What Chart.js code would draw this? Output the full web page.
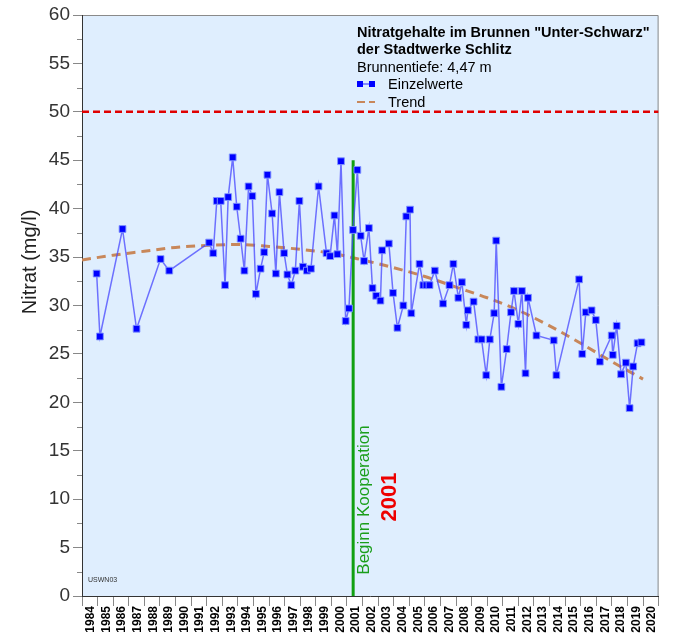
<!DOCTYPE html>
<html>
<head>
<meta charset="utf-8">
<script src="https://cdn.jsdelivr.net/npm/chart.js@4/dist/chart.umd.min.js"></script>
<style>
  html, body { margin: 0; padding: 0; background: #fff; }
</style>
</head>
<body>
<canvas id="chart" width="673" height="642"></canvas>
<script>
// Einzelwerte (Datum als Dezimaljahr, Nitrat in mg/l)
const sampleYears = [
  1984.94, 1985.15, 1986.6, 1987.5, 1989.04, 1989.6, 1992.16, 1992.42, 1992.65, 1992.9,
  1993.18, 1993.38, 1993.67, 1993.93, 1994.18, 1994.42, 1994.69, 1994.93, 1995.16, 1995.46,
  1995.69, 1995.9, 1996.2, 1996.44, 1996.67, 1996.97, 1997.18, 1997.43, 1997.69, 1997.95,
  1998.18, 1998.43, 1998.69, 1999.18, 1999.69, 1999.92, 2000.2, 2000.39, 2000.62, 2000.92,
  2001.13, 2001.39, 2001.67, 2001.88, 2002.1, 2002.41, 2002.64, 2002.88, 2003.15, 2003.26,
  2003.69, 2003.96, 2004.24, 2004.62, 2004.81, 2005.05, 2005.13, 2005.66, 2005.9, 2006.1,
  2006.3, 2006.64, 2007.17, 2007.58, 2007.83, 2008.15, 2008.38, 2008.66, 2008.76, 2009.13,
  2009.43, 2009.64, 2009.94, 2010.17, 2010.45, 2010.58, 2010.91, 2011.25, 2011.53, 2011.72,
  2012.0, 2012.23, 2012.46, 2012.62, 2013.16, 2014.27, 2014.44, 2015.9, 2016.1, 2016.33,
  2016.7, 2016.97, 2017.23, 2017.99, 2018.06, 2018.31, 2018.59, 2018.9, 2019.14, 2019.37,
  2019.65, 2019.9
]
const nitrateValues = [
  33.3, 26.8, 37.9, 27.6, 34.8, 33.6, 36.5, 35.4, 40.8, 40.8,
  32.1, 41.2, 45.3, 40.2, 36.9, 33.6, 42.3, 41.3, 31.2, 33.8,
  35.5, 43.5, 39.5, 33.3, 41.7, 35.4, 33.2, 32.1, 33.6, 40.8,
  34.0, 33.6, 33.8, 42.3, 35.4, 35.1, 39.3, 35.3, 44.9, 28.4,
  29.7, 37.8, 44.0, 37.2, 34.6, 38.0, 31.8, 31.0, 30.5, 35.7,
  36.4, 31.3, 27.7, 30.0, 39.2, 39.9, 29.2, 34.3, 32.1, 32.1,
  32.1, 33.6, 30.2, 32.1, 34.3, 30.8, 32.4, 28.0, 29.5, 30.4,
  26.5, 26.5, 22.8, 26.5, 29.2, 36.7, 21.6, 25.5, 29.3, 31.5,
  28.1, 31.5, 23.0, 30.8, 26.9, 26.4, 22.8, 32.7, 25.0, 29.3,
  29.5, 28.5, 24.2, 26.9, 24.9, 27.9, 22.9, 24.1, 19.4, 23.7,
  26.1, 26.2
]

// Trendkurve
const trendYears = [1984, 1986, 1988, 1990, 1992, 1994, 1996, 1998, 2000, 2002, 2004, 2006, 2008, 2010, 2012, 2014, 2016, 2018, 2020]
const trendValues = [34.7, 35.2, 35.6, 36.0, 36.2, 36.3, 36.1, 35.8, 35.4, 34.7, 33.9, 33.0, 31.9, 30.8, 29.5, 27.9, 26.1, 24.2, 22.4]

const limitValue = 50
const cooperationYear = 2001.4
const cooperationTop = 45
const xMin = 1984
const xMax = 2021

const font = 'Arial, "Liberation Sans", sans-serif'

const plotBackground = {
  id: 'plotBackground',
  beforeDraw(chart) {
    const { ctx, chartArea: a } = chart
    ctx.save()
    ctx.fillStyle = '#dfeefe'
    ctx.fillRect(a.left, a.top, a.width, a.height)
    ctx.strokeStyle = '#8a8a8a'
    ctx.lineWidth = 1
    ctx.beginPath()
    ctx.moveTo(a.left, a.top + 0.5)
    ctx.lineTo(a.right - 0.5, a.top + 0.5)
    ctx.lineTo(a.right - 0.5, a.bottom)
    ctx.stroke()
    ctx.restore()
  }
}

const minorTicks = {
  id: 'minorTicks',
  afterDraw(chart) {
    const { ctx } = chart
    const y = chart.scales.y
    ctx.save()
    ctx.strokeStyle = '#888'
    ctx.lineWidth = 1
    for (let v = 2.5; v < 60; v += 5) {
      const py = Math.round(y.getPixelForValue(v)) + 0.5
      ctx.beginPath()
      ctx.moveTo(y.right - 5, py)
      ctx.lineTo(y.right, py)
      ctx.stroke()
    }
    // axis title, set a bit above the middle like the original
    ctx.translate(30, y.getPixelForValue(34.5))
    ctx.rotate(-Math.PI / 2)
    ctx.fillStyle = '#222'
    ctx.font = '20px ' + font
    ctx.textAlign = 'center'
    ctx.textBaseline = 'middle'
    ctx.fillText('Nitrat (mg/l)', 0, 0)
    ctx.restore()
  }
}

const notes = {
  id: 'notes',
  afterDatasetsDraw(chart) {
    const { ctx, chartArea: a } = chart
    const x = chart.scales.x
    const y = chart.scales.y
    const cx = x.getPixelForValue(cooperationYear)
    ctx.save()

    // vertical captions
    ctx.translate(cx + 11, y.getPixelForValue(2.2))
    ctx.rotate(-Math.PI / 2)
    ctx.fillStyle = '#1a9e1a'
    ctx.font = '17px ' + font
    ctx.textAlign = 'left'
    ctx.textBaseline = 'middle'
    ctx.fillText('Beginn Kooperation', 0, 0)
    ctx.restore()

    ctx.save()
    ctx.translate(cx + 37, y.getPixelForValue(7.7))
    ctx.rotate(-Math.PI / 2)
    ctx.fillStyle = '#ee0000'
    ctx.font = 'bold 22px ' + font
    ctx.textAlign = 'left'
    ctx.textBaseline = 'middle'
    ctx.fillText('2001', 0, 0)
    ctx.restore()

    ctx.save()
    ctx.fillStyle = '#333'
    ctx.font = '7px ' + font
    ctx.fillText('USWN03', a.left + 6, a.bottom - 14)

    // legend block
    const lx = 357
    ctx.fillStyle = '#000'
    ctx.textBaseline = 'alphabetic'
    ctx.font = 'bold 14.5px ' + font
    ctx.fillText('Nitratgehalte im Brunnen "Unter-Schwarz"', lx, 37)
    ctx.fillText('der Stadtwerke Schlitz', lx, 54)
    ctx.font = '14.5px ' + font
    ctx.fillText('Brunnentiefe: 4,47 m', lx, 72)
    ctx.fillText('Einzelwerte', lx + 31, 89)
    ctx.fillText('Trend', lx + 31, 107)

    ctx.strokeStyle = 'rgba(70,70,255,0.8)'
    ctx.lineWidth = 1.5
    ctx.beginPath()
    ctx.moveTo(lx + 3, 84)
    ctx.lineTo(lx + 15, 84)
    ctx.stroke()
    ctx.fillStyle = '#0000ff'
    ctx.fillRect(lx, 81, 6, 6)
    ctx.fillRect(lx + 12, 81, 6, 6)

    ctx.strokeStyle = '#c8875a'
    ctx.lineWidth = 2
    ctx.setLineDash([8, 4])
    ctx.beginPath()
    ctx.moveTo(lx, 102)
    ctx.lineTo(lx + 18, 102)
    ctx.stroke()
    ctx.restore()
  }
}

const config = {
  type: 'line',
  data: {
    datasets: [
      {
        label: 'Einzelwerte',
        data: sampleYears.map((v, i) => ({ x: v, y: nitrateValues[i] })),
        borderColor: 'rgba(70,70,255,0.75)',
        borderWidth: 1.5,
        pointStyle: 'rect',
        pointRadius: 4.8,
        pointBackgroundColor: '#0000ff',
        pointBorderColor: 'rgba(130,150,255,0.9)',
        pointBorderWidth: 1,
        order: 0
      },
      {
        label: 'Kooperation',
        data: [{ x: cooperationYear, y: 0 }, { x: cooperationYear, y: cooperationTop }],
        borderColor: '#11a011',
        borderWidth: 3,
        pointRadius: 0,
        order: 1
      },
      {
        label: 'Trend',
        data: trendYears.map((v, i) => ({ x: v, y: trendValues[i] })),
        borderColor: '#c8875a',
        borderWidth: 3,
        borderDash: [9, 6],
        pointRadius: 0,
        cubicInterpolationMode: 'monotone',
        order: 2
      },
      {
        label: 'Grenzwert',
        data: [{ x: xMin, y: limitValue }, { x: xMax, y: limitValue }],
        borderColor: '#e00000',
        borderWidth: 2.5,
        borderDash: [7, 4],
        pointRadius: 0,
        order: 3
      }
    ]
  },
  options: {
    responsive: false,
    animation: false,
    devicePixelRatio: 1,
    layout: {
      padding: { top: 15, right: 10, left: 0, bottom: 0 }
    },
    scales: {
      x: {
        type: 'linear',
        min: xMin,
        max: xMax,
        ticks: {
          stepSize: 1,
          autoSkip: false,
          minRotation: 90,
          maxRotation: 90,
          labelOffset: 9,
          padding: 0,
          color: '#000',
          font: { family: font, size: 12, weight: 'bold' },
          callback: v => (v < xMax ? String(v) : '')
        },
        grid: {
          drawOnChartArea: false,
          tickLength: 10,
          color: '#888'
        },
        border: { color: '#333' },
        afterFit: s => { s.height = 46 }
      },
      y: {
        min: 0,
        max: 60,
        ticks: {
          stepSize: 2.5,
          autoSkip: false,
          padding: 3,
          color: '#333',
          font: { family: font, size: 19 },
          callback: v => (v % 5 === 0 ? String(v) : '')
        },
        grid: {
          drawOnChartArea: false,
          tickLength: 9,
          tickColor: ctx => (ctx.tick && ctx.tick.value % 5 === 0 ? '#888' : 'rgba(0,0,0,0)')
        },
        border: { color: '#333' },
        afterFit: s => { s.width = 82 }
      }
    },
    plugins: {
      legend: { display: false },
      tooltip: { enabled: false }
    }
  },
  plugins: [plotBackground, minorTicks, notes]
}

new Chart(document.getElementById('chart').getContext('2d'), config)
</script>
</body>
</html>
